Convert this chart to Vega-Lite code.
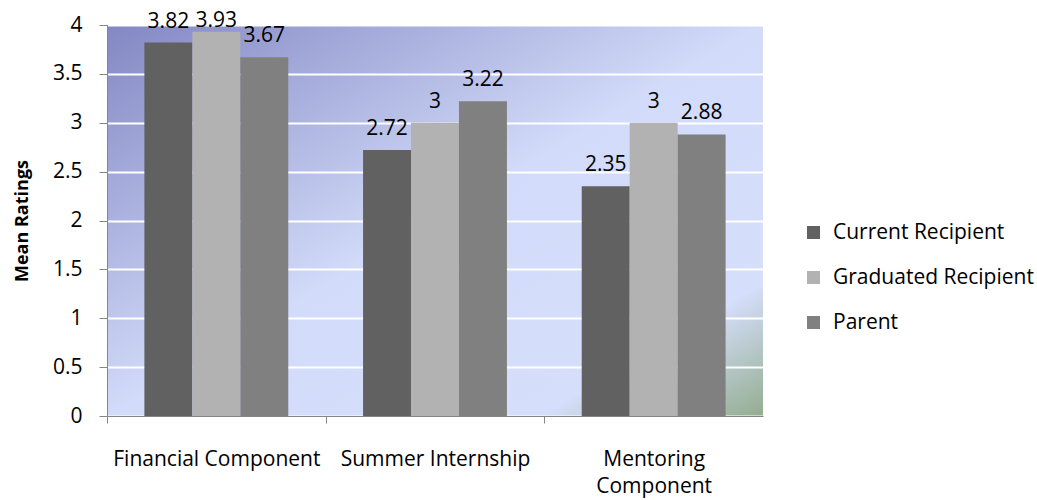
{
  "$schema": "https://vega.github.io/schema/vega-lite/v6.json",
  "width": 656,
  "height": 391,
  "autosize": {"type": "none"},
  "padding": {"left": 107, "top": 25, "right": 274, "bottom": 84},
  "background": "white",
  "config": {
    "font": "Open Sans",
    "view": {
      "stroke": null,
      "fill": {
        "gradient": "linear",
        "x1": 0, "y1": 0, "x2": 1, "y2": 1,
        "stops": [
          {"offset": 0, "color": "#8387c3"},
          {"offset": 0.5, "color": "#d2dbf9"},
          {"offset": 0.83, "color": "#d5defb"},
          {"offset": 1, "color": "#93ad8f"}
        ]
      }
    },
    "axis": {
      "domainColor": "#868686",
      "tickColor": "#868686",
      "labelColor": "black",
      "titleColor": "black",
      "labelFont": "Open Sans",
      "titleFont": "Open Sans",
      "labelFontSize": 21,
      "titleFontSize": 18
    }
  },
  "data": {
    "values": [
      {"component": "Financial Component", "group": "Current Recipient", "rating": 3.82},
      {"component": "Financial Component", "group": "Graduated Recipient", "rating": 3.93},
      {"component": "Financial Component", "group": "Parent", "rating": 3.67},
      {"component": "Summer Internship", "group": "Current Recipient", "rating": 2.72},
      {"component": "Summer Internship", "group": "Graduated Recipient", "rating": 3},
      {"component": "Summer Internship", "group": "Parent", "rating": 3.22},
      {"component": "Mentoring Component", "group": "Current Recipient", "rating": 2.35},
      {"component": "Mentoring Component", "group": "Graduated Recipient", "rating": 3},
      {"component": "Mentoring Component", "group": "Parent", "rating": 2.88}
    ]
  },
  "encoding": {
    "x": {
      "field": "component",
      "type": "nominal",
      "sort": ["Financial Component", "Summer Internship", "Mentoring Component"],
      "scale": {"paddingInner": 0.342, "paddingOuter": 0.171},
      "axis": {
        "title": null,
        "labelAngle": 0,
        "grid": false,
        "tickSize": 7,
        "tickOffset": -109.33,
        "labelOffset": 109.33,
        "labelPadding": 25,
        "labelBaseline": "top",
        "labelLineHeight": 27,
        "labelLimit": 0,
        "labelExpr": "datum.label == 'Mentoring Component' ? ['Mentoring', 'Component'] : datum.label"
      }
    },
    "xOffset": {
      "field": "group",
      "type": "nominal",
      "sort": ["Current Recipient", "Graduated Recipient", "Parent"]
    },
    "y": {
      "field": "rating",
      "type": "quantitative",
      "scale": {"domain": [0, 4], "nice": false},
      "axis": {
        "title": "Mean Ratings",
        "titleFontWeight": "bold",
        "format": "~g",
        "values": [0, 0.5, 1, 1.5, 2, 2.5, 3, 3.5, 4],
        "grid": true,
        "gridColor": "white",
        "gridWidth": 2,
        "gridOpacity": 1,
        "tickSize": 8,
        "labelPadding": 17,
        "titleX": -76
      }
    }
  },
  "layer": [
    {
      "mark": {"type": "bar"},
      "encoding": {
        "color": {
          "field": "group",
          "type": "nominal",
          "sort": ["Current Recipient", "Graduated Recipient", "Parent"],
          "scale": {
            "domain": ["Current Recipient", "Graduated Recipient", "Parent"],
            "range": ["#616161", "#b2b2b2", "#808080"]
          },
          "legend": {
            "title": null,
            "orient": "none",
            "legendX": 696,
            "legendY": 197,
            "padding": 0,
            "symbolType": "square",
            "symbolSize": 169,
            "symbolStrokeWidth": 0,
            "symbolOpacity": 1,
            "labelFont": "Open Sans",
            "labelFontSize": 21,
            "labelColor": "black",
            "labelLimit": 0,
            "labelOffset": 9,
            "rowPadding": 23
          }
        }
      }
    },
    {
      "mark": {
        "type": "text",
        "baseline": "alphabetic",
        "dy": {"expr": "datum.rating > 3.9 ? -5 : -15"},
        "fontSize": 21,
        "font": "Open Sans",
        "color": "black"
      },
      "encoding": {
        "text": {"field": "rating", "type": "quantitative", "format": "~g"}
      }
    }
  ]
}
